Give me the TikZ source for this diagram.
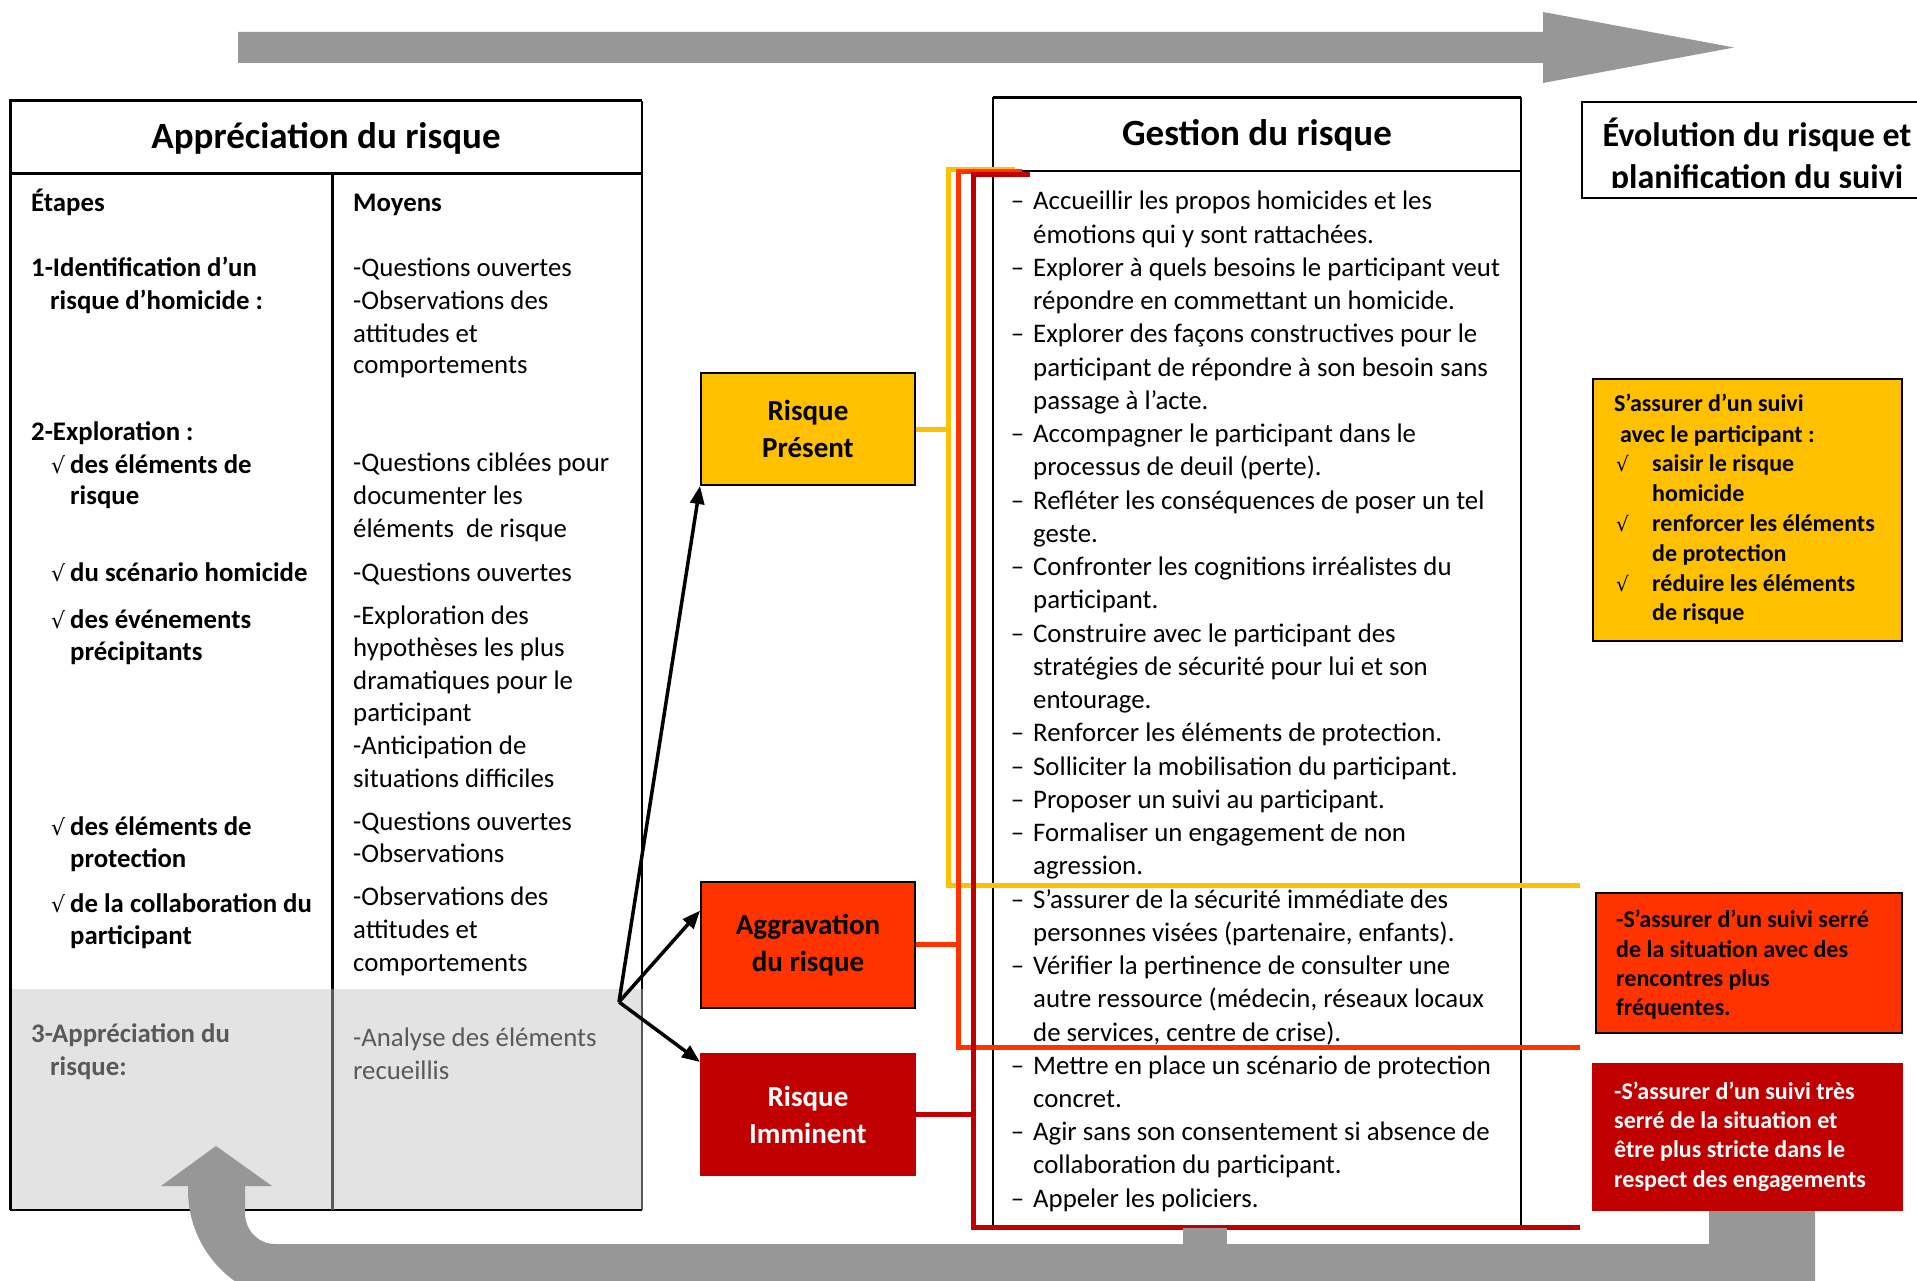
\documentclass[tikz,border=0pt]{standalone}
\usepackage{fontspec}
\setmainfont{Carlito}
\newfontfamily\symf{DejaVu Sans}
\usetikzlibrary{arrows.meta,calc}
\definecolor{cyel}{HTML}{FFC000}
\definecolor{corg}{HTML}{FF3300}
\definecolor{cred}{HTML}{C00000}
\definecolor{cgray}{HTML}{979797}
\definecolor{cfill}{HTML}{E3E3E3}
\definecolor{ctxt}{HTML}{595959}
\newcommand\ck{\makebox[19pt][l]{\symf\mdseries\fontsize{22}{22}\selectfont √}}
\newcommand\cky{\makebox[36pt][l]{\symf\mdseries\fontsize{20}{20}\selectfont √}}
\newcommand\D{\llap{–\hspace{9pt}}}
\begin{document}
\begin{tikzpicture}[x=1pt,y=-1pt,
  tb/.style={anchor=base west, inner sep=0, font=\fontsize{26.8}{32}\selectfont},
  tbb/.style={anchor=base west, inner sep=0, font=\fontsize{26.8}{32}\selectfont\bfseries},
  ttl/.style={anchor=base, inner sep=0, font=\fontsize{37}{44}\selectfont\bfseries},
  yb/.style={anchor=base west, inner sep=0, font=\fontsize{24}{29}\selectfont\bfseries},
  mid/.style={inner sep=0, line width=2, minimum width=214, align=center, font=\fontsize{29}{37}\selectfont\bfseries},
  arr/.style={line width=3.5, -{Triangle[length=18pt,width=14pt]}},
  conn/.style={line width=5},
  frame/.style={line width=2}]
\useasboundingbox (0,0) rectangle (1917,1281);
\fill[white] (0,0) rectangle (1917,1281);

% top arrow
\fill[cgray] (238,32) -- (1543,32) -- (1543,12) -- (1734,47.5) -- (1543,83) -- (1543,63) -- (238,63) -- cycle;

% left table
\fill[cfill] (10,989) rectangle (642,1210);
\draw[line width=3] (10,1210) -- (10,101) -- (642,101);
\draw[frame] (642,101) -- (642,989);
\draw[frame, ctxt] (642,989) -- (642,1210);
\draw[frame] (10,1210) -- (642,1210);
\draw[line width=3] (10,174) -- (642,174);
\draw[line width=3] (332,174) -- (332,989);
\draw[line width=3, ctxt] (332,989) -- (332,1210);
\node[ttl] (t1) at (326,149) {Appréciation du risque};

\foreach \xx/\yy/\t [count=\i] in {31/212/Étapes, 31/277/1-Identification d’un, 50/309/risque d’homicide :,
  31/440/2-Exploration :, 51/473/\ck des éléments de, 70/504/risque, 51/581/\ck du scénario homicide,
  51/628/\ck des événements, 70/660/précipitants, 51/835/\ck des éléments de, 70/867/protection,
  51/912/\ck de la collaboration du, 70/944/participant}
  \node[tbb] (e\i) at (\xx,\yy) {\t};
\node[tbb, text=ctxt] (e14) at (31,1042) {3-Appréciation du};
\node[tbb, text=ctxt] (e15) at (50,1075) {risque:};

\node[tbb] (m0) at (353,212) {Moyens};
\foreach \yy/\t [count=\i] in {277/-Questions ouvertes, 309/-Observations des, 342/attitudes et, 373/comportements,
  471/-Questions ciblées pour, 504/documenter les, 537/éléments\ \ de risque, 581/-Questions ouvertes,
  624/-Exploration des, 656/hypothèses les plus, 689/dramatiques pour le, 721/participant,
  754/-Anticipation de, 787/situations difficiles, 830/-Questions ouvertes, 862/-Observations,
  905/-Observations des, 938/attitudes et, 971/comportements}
  \node[tb] (m\i) at (353,\yy) {\t};
\node[tb, text=ctxt] (m20) at (353,1046) {-Analyse des éléments};
\node[tb, text=ctxt] (m21) at (353,1079) {recueillis};

% Gestion box
\draw[frame] (993,1227) -- (993,98) -- (1521,98) -- (1521,1227);
\draw[line width=3] (993,98) -- (1521,98);
\draw[frame] (993,171) -- (1521,171);
\node[ttl] (t2) at (1257,146) {Gestion du risque};
\foreach \t [count=\i from 0] in {
 {\D Accueillir les propos homicides et les},
 {émotions qui y sont rattachées.},
 {\D Explorer à quels besoins le participant veut},
 {répondre en commettant un homicide.},
 {\D Explorer des façons constructives pour le},
 {participant de répondre à son besoin sans},
 {passage à l’acte.},
 {\D Accompagner le participant dans le},
 {processus de deuil (perte).},
 {\D Refléter les conséquences de poser un tel},
 {geste.},
 {\D Confronter les cognitions irréalistes du},
 {participant.},
 {\D Construire avec le participant des},
 {stratégies de sécurité pour lui et son},
 {entourage.},
 {\D Renforcer les éléments de protection.},
 {\D Solliciter la mobilisation du participant.},
 {\D Proposer un suivi au participant.},
 {\D Formaliser un engagement de non},
 {agression.},
 {\D S’assurer de la sécurité immédiate des},
 {personnes visées (partenaire, enfants).},
 {\D Vérifier la pertinence de consulter une},
 {autre ressource (médecin, réseaux locaux},
 {de services, centre de crise).},
 {\D Mettre en place un scénario de protection},
 {concret.},
 {\D Agir sans son consentement si absence de},
 {collaboration du participant.},
 {\D Appeler les policiers.}}
 \node[tb] (g\i) at (1033,{210+\i*33.24}) {\t};

% Evolution box
\draw[line width=2.5] (1582,102) rectangle (1930,198);
\begin{scope}
\clip (1582,100) rectangle (1917,188);
\node[ttl, font=\fontsize{34}{41}\selectfont\bfseries] (t3) at (1757,147) {Évolution du risque et};
\node[ttl, font=\fontsize{34}{41}\selectfont\bfseries] (t4) at (1757,189) {planification du suivi};
\end{scope}

% middle boxes
\node[mid, draw=black, fill=cyel, minimum height=112] (pres) at (808,429) {Risque\\Présent};
\node[mid, draw=black, fill=corg, minimum height=126] (agg) at (808,944.7) {Aggravation\\du risque};
\node[mid, draw=cred, fill=cred, text=white, minimum height=121] (imm) at (808,1114.5) {Risque\\Imminent};

% arrows
\coordinate (fork) at (619,1002);
\draw[arr] (fork) -- (pres.south west);
\draw[arr] (fork) -- ([yshift=34pt]agg.west);
\draw[arr] (fork) -- ([yshift=-9pt]imm.north west);

% coloured brackets
\coordinate (ytop) at (948,170);
\coordinate (ybot) at (948,885);
\coordinate (yend) at (1580,885);
\coordinate (otop) at (958,172);
\coordinate (obot) at (958,1047);
\coordinate (oend) at (1580,1047);
\coordinate (rtop) at (973,175);
\coordinate (rbot) at (973,1227);
\coordinate (rend) at (1580,1227);
\draw[conn, cyel] (pres.east) -- (pres.east -| ytop);
\draw[conn, cyel] (1015,170) -- (ytop) -- (ybot) -- (yend);
\draw[conn, corg] (agg.east) -- (agg.east -| otop);
\draw[conn, corg] (1022,172) -- (otop) -- (obot) -- (oend);
\draw[conn, cred] (imm.east) -- (imm.east -| rtop);
\draw[conn, cred] (1030,175) -- (rtop) -- (rbot) -- (rend);

% right boxes
\node[draw=black, line width=2, fill=cyel, minimum width=309, minimum height=262, inner sep=0] (ysuivi) at (1747.5,510) {};
\node[yb] (y1) at (1614,411) {S’assurer d’un suivi};
\node[yb] (y2) at (1620,442) {avec le participant :};
\node[yb] (y3) at (1616,471) {\cky saisir le risque};
\node[yb] (y4) at (1652,501) {homicide};
\node[yb] (y5) at (1616,531) {\cky renforcer les éléments};
\node[yb] (y6) at (1652,561) {de protection};
\node[yb] (y7) at (1616,591) {\cky réduire les éléments};
\node[yb] (y8) at (1652,620) {de risque};

\node[draw=black, line width=2, fill=corg, minimum width=306, minimum height=140, inner sep=0] (osuivi) at (1749,963) {};
\node[yb] (o1) at (1616,927) {-S’assurer d’un suivi serré};
\node[yb] (o2) at (1616,957) {de la situation avec des};
\node[yb] (o3) at (1616,986) {rencontres plus};
\node[yb] (o4) at (1616,1015) {fréquentes.};

\node[draw=cred, line width=1, fill=cred, minimum width=310, minimum height=147, inner sep=0] (rsuivi) at (1747,1136.5) {};
\node[yb, text=white] (r1) at (1614,1099) {-S’assurer d’un suivi très};
\node[yb, text=white] (r2) at (1614,1128) {serré de la situation et};
\node[yb, text=white] (r3) at (1614,1157) {être plus stricte dans le};
\node[yb, text=white] (r4) at (1614,1187) {respect des engagements};

% bottom return arrow
\fill[cgray] (1183,1228) rectangle (1227,1246);
\fill[cgray] (216,1146) -- (272,1186) -- (245,1186) -- (245,1213)
  .. controls (245,1230) and (258,1244) .. (275,1244) -- (1709,1244) -- (1709,1211) -- (1815,1211)
  -- (1815,1302) -- (300,1302) .. controls (238,1302) and (188,1252) .. (188,1190)
  -- (188,1186) -- (161,1186) -- cycle;
\end{tikzpicture}
\end{document}
